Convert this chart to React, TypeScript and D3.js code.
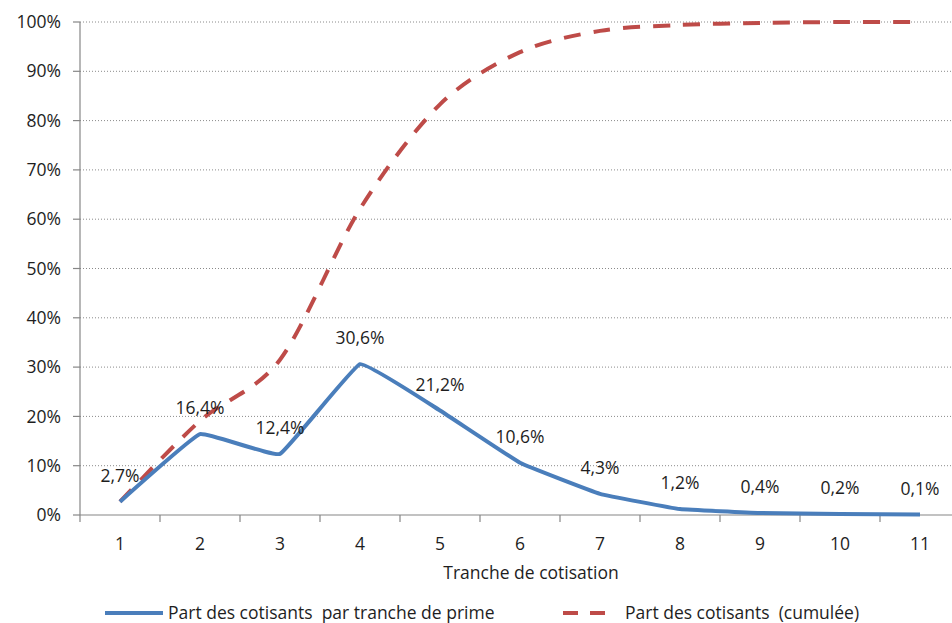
import React from "react";
import * as d3 from "d3";

const categories = ["1", "2", "3", "4", "5", "6", "7", "8", "9", "10", "11"];
const shareValues = [2.7, 16.4, 12.4, 30.6, 21.2, 10.6, 4.3, 1.2, 0.4, 0.2, 0.1];
const shareLabels = ["2,7%", "16,4%", "12,4%", "30,6%", "21,2%", "10,6%", "4,3%", "1,2%", "0,4%", "0,2%", "0,1%"];
const cumulativeValues = [2.7, 19.1, 31.5, 62.1, 83.3, 93.9, 98.2, 99.4, 99.8, 100, 100];
const yTicks = [0, 10, 20, 30, 40, 50, 60, 70, 80, 90, 100];

const W = 952;
const H = 623;
const left = 80;
const top = 22;
const bottom = 515;
const FONT = "'Open Sans', 'Noto Sans', sans-serif";
const FS = 17.5;
const TEXT = "#1e1e1e";

export default function App() {
  const x = d3.scaleBand().domain(categories).range([left, left + 80 * categories.length]);
  const y = d3.scaleLinear().domain([0, 100]).range([bottom, top]);
  const cx = (c: string) => (x(c) ?? 0) + x.bandwidth() / 2;

  const cumLine = d3
    .line<number>()
    .x((_, i) => cx(categories[i]))
    .y((d) => y(d))
    .curve(d3.curveCardinal.tension(0.1));

  const shareLine = d3
    .line<number>()
    .x((_, i) => cx(categories[i]))
    .y((d) => y(d))
    .curve(d3.curveCardinal.tension(0.75));

  return (
    <svg width={W} height={H} style={{ position: "absolute", left: 0, top: 0, background: "#fff" }}>
      {/* gridlines */}
      {yTicks.slice(1).map((t) => (
        <line key={t} x1={left} x2={W} y1={y(t)} y2={y(t)} stroke="#8a8a8a" strokeWidth={1} strokeDasharray="1,2" />
      ))}
      {/* y axis */}
      <line x1={left} x2={left} y1={top} y2={bottom} stroke="#868686" strokeWidth={1.2} />
      {yTicks.map((t) => (
        <g key={t}>
          <line x1={left - 7} x2={left} y1={y(t)} y2={y(t)} stroke="#868686" strokeWidth={1.2} />
          <text x={61} y={y(t)} dy="0.35em" textAnchor="end" fontFamily={FONT} fontSize={FS} fill={TEXT}>
            {t}%
          </text>
        </g>
      ))}
      {/* x axis */}
      <line x1={left} x2={W} y1={bottom} y2={bottom} stroke="#868686" strokeWidth={1.2} />
      {categories.map((c) => (
        <g key={c}>
          <line x1={x(c)} x2={x(c)} y1={bottom} y2={bottom + 7} stroke="#868686" strokeWidth={1.2} />
          <text x={cx(c)} y={544} dy="0.35em" textAnchor="middle" fontFamily={FONT} fontSize={FS} fill={TEXT}>
            {c}
          </text>
        </g>
      ))}
      <text x={531} y={573} dy="0.35em" textAnchor="middle" fontFamily={FONT} fontSize={FS} fill={TEXT}>
        Tranche de cotisation
      </text>

      {/* series */}
      <path d={cumLine(cumulativeValues) ?? ""} fill="none" stroke="#be4b48" strokeWidth={4} strokeDasharray="17,13" />
      <path d={shareLine(shareValues) ?? ""} fill="none" stroke="#4a7ebb" strokeWidth={4} strokeLinejoin="round" />

      {/* data labels */}
      {shareValues.map((v, i) => (
        <text key={i} x={cx(categories[i])} y={y(v) - 26} dy="0.35em" textAnchor="middle" fontFamily={FONT} fontSize={FS} fill={TEXT}>
          {shareLabels[i]}
        </text>
      ))}

      {/* legend */}
      <line x1={105} x2={163} y1={613} y2={613} stroke="#4a7ebb" strokeWidth={4} />
      <text x={168} y={613} dy="0.35em" fontFamily={FONT} fontSize={FS} fill={TEXT} style={{ whiteSpace: "pre" }}>
        {"Part des cotisants  par tranche de prime"}
      </text>
      <line x1={563} x2={615} y1={613} y2={613} stroke="#be4b48" strokeWidth={4} strokeDasharray="15,12" />
      <text x={625} y={613} dy="0.35em" fontFamily={FONT} fontSize={FS} fill={TEXT} style={{ whiteSpace: "pre" }}>
        {"Part des cotisants  (cumulée)"}
      </text>
    </svg>
  );
}
